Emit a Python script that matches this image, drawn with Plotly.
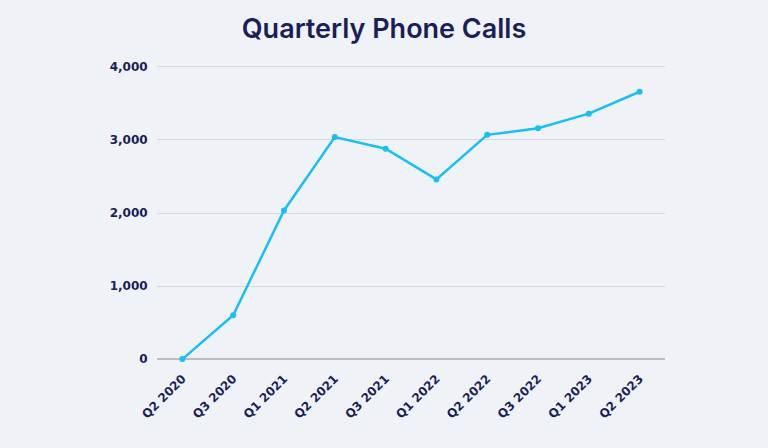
import plotly.graph_objects as go

quarters = ["Q2 2020", "Q3 2020", "Q1 2021", "Q2 2021", "Q3 2021",
            "Q1 2022", "Q2 2022", "Q3 2022", "Q1 2023", "Q2 2023"]
calls = [0, 600, 2035, 3040, 2880, 2460, 3070, 3160, 3360, 3660]
y_ticks = [0, 1000, 2000, 3000, 4000]

navy = "#1b1e57"
bg = "#eff3f8"

fig = go.Figure(go.Scatter(
    x=quarters, y=calls, mode="lines+markers",
    line=dict(color="#1dbdf0", width=2.5),
    marker=dict(color="#1dbdf0", size=6),
    cliponaxis=False, hoverinfo="x+y",
))

fig.update_layout(
    width=768, height=448,
    paper_bgcolor=bg, plot_bgcolor=bg,
    margin=dict(l=157, r=103, t=64, b=86),
    title=dict(text="Quarterly Phone Calls", x=0.5, xanchor="center",
               y=1 - 29 / 448, yanchor="middle", yref="container",
               font=dict(family="Inter", size=27, color=navy, weight=600)),
    showlegend=False,
    xaxis=dict(type="category", range=[-0.5, 9.5], showgrid=False,
               tickangle=-45, showline=False, zeroline=False,
               tickfont=dict(family="DejaVu Sans", size=12, color=navy, weight="bold"),
               ticks="outside", ticklen=4, tickcolor="rgba(0,0,0,0)"),
    yaxis=dict(range=[-40, 4040], tickvals=y_ticks, tickformat=",",
               showgrid=True, gridcolor="#d6d9df", gridwidth=1,
               zeroline=True, zerolinecolor="#b9bcc3", zerolinewidth=1.5,
               showline=False,
               tickfont=dict(family="DejaVu Sans", size=12, color=navy, weight="bold"),
               ticks="outside", ticklen=6, tickcolor="rgba(0,0,0,0)"),
)

fig.write_html("out.html", config={"displayModeBar": False},
               post_script="document.body.style.margin='0';document.body.style.background='%s';" % bg)
